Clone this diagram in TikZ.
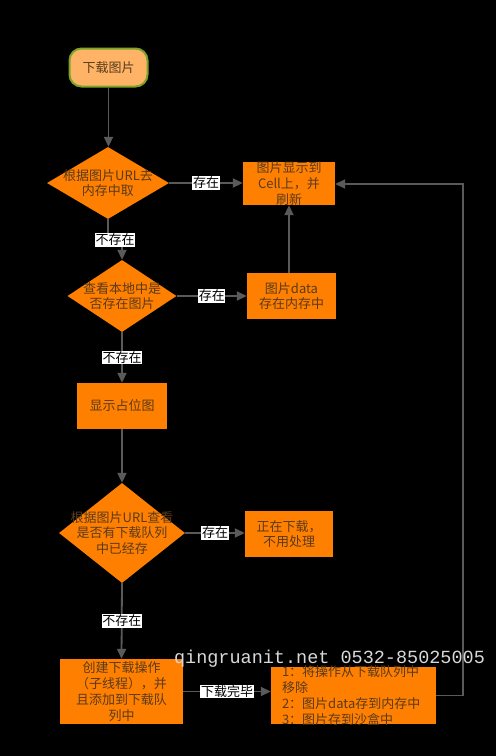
\documentclass[tikz,border=0pt]{standalone}
\usepackage{fontspec}
\setmainfont{Noto Sans CJK SC}
\newfontfamily\wmfont{Liberation Mono}
\usetikzlibrary{arrows.meta,shapes.geometric}
\definecolor{orng}{HTML}{FF8000}
\definecolor{lorng}{HTML}{FFB366}
\definecolor{grn}{HTML}{7BA428}
\definecolor{txt}{HTML}{5A3A1A}
\definecolor{ln}{HTML}{5A5A5A}
\definecolor{wmc}{HTML}{D8D8D8}
\begin{document}
\begin{tikzpicture}[x=1pt,y=-1pt,
 every node/.style={font=\fontsize{13}{15.8}\selectfont},
 box/.style={rectangle, fill=orng, inner sep=0},
 dec/.style={diamond, fill=orng, inner sep=0},
 tx/.style={text=txt, align=center, inner sep=0},
 arr/.style={draw=ln, line width=1.8pt, -{Triangle[length=10pt,width=9pt]}},
 lbl/.style={fill=white, text=black, inner sep=0.6pt},
]
\fill[black] (0,0) rectangle (496,756);
\useasboundingbox (0,0) rectangle (496,756);

\node[box, rounded corners=12pt, fill=lorng, draw=grn, line width=2pt, minimum width=78pt, minimum height=38pt] (start) at (108.5,67.5) {};
\node[tx] (startt) at (start) {下载图片};
\node[dec, minimum width=122pt, minimum height=72pt] (d1) at (108,183) {};
\node[tx] (d1t) at (d1) {根据图片URL去\\内存中取};
\node[box, minimum width=92pt, minimum height=43pt] (b1) at (289,183.5) {};
\node[tx] (b1t) at (b1) {图片显示到\\Cell上，并\\刷新};
\node[dec, minimum width=109pt, minimum height=72pt] (d2) at (122,296) {};
\node[tx] (d2t) at (d2) {查看本地中是\\否存在图片};
\node[box, minimum width=89pt, minimum height=46pt] (b2) at (291.5,296) {};
\node[tx] (b2t) at (b2) {图片data\\存在内存中};
\node[box, minimum width=90pt, minimum height=46pt] (b3) at (122,406) {};
\node[tx] (b3t) at (b3) {显示占位图};
\node[dec, minimum width=126pt, minimum height=100pt] (d3) at (122,533) {};
\node[tx] (d3t) at (d3) {根据图片URL查看\\是否有下载队列\\中已经存};
\node[box, minimum width=88pt, minimum height=46pt] (b4) at (289,534) {};
\node[tx] (b4t) at (b4) {正在下载，\\不用处理};
\node[box, minimum width=123pt, minimum height=65pt] (b5) at (121.5,691.5) {};
\node[tx] (b5t) at (b5) {创建下载操作\\（子线程），并\\且添加到下载队\\列中};
\node[box, minimum width=165pt, minimum height=57pt] (b6) at (353.5,695.5) {};
\node[tx, align=left, anchor=west] (b6t) at ([xshift=11pt]b6.west) {1：将操作从下载队列中\\移除\\2：图片data存到内存中\\3：图片存到沙盒中};

\draw[arr] (start.south) -- (start.south |- d1.north);
\draw[arr] (d1.east) -- node[lbl] (l1) {存在} (d1.east -| b1.west);
\coordinate (k1) at (115,240);
\draw[arr] (d1.south) |- (k1) -| (d2.north);
\node[lbl] (l2) at (k1) {不存在};
\draw[arr] (d2.east) -- node[lbl] (l3) {存在} (d2.east -| b2.west);
\draw[arr] (b1.south |- b2.north) -- (b1.south);
\draw[arr] (d2.south) -- node[lbl] (l4) {不存在} (b3.north);
\draw[arr] (b3.south) -- (d3.north);
\draw[arr] (d3.east) -- node[lbl] (l5) {存在} (d3.east -| b4.west);
\draw[arr] (d3.south) -- node[lbl] (l6) {不存在} (b5.north);
\draw[arr] (b5.east) -- node[lbl] (l7) {下载完毕} (b5.east -| b6.west);
\coordinate (r1) at (463,184);
\draw[arr] (b6.east) -| (r1) -- (r1 -| b1.east);

\node[font=\wmfont\fontsize{18.5}{20}\selectfont, text=wmc, inner sep=0] (wm) at (329.5,659) {qingruanit.net 0532-85025005};
\end{tikzpicture}
\end{document}
